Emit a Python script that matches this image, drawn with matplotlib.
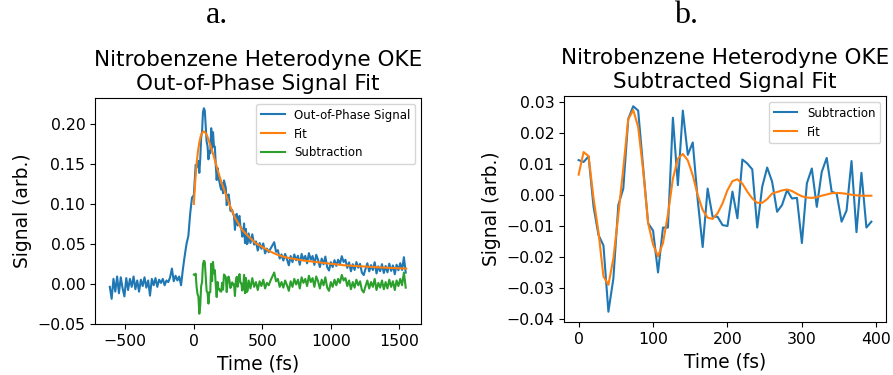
#!/usr/bin/env python
import matplotlib
matplotlib.use("Agg")
import matplotlib.pyplot as plt
from matplotlib.ticker import MultipleLocator
import numpy as np

# --- panel a: out-of-phase signal (blue), fit (orange), subtraction (green) ---
# blue before time zero, 40/3 fs steps from -613 fs
pre_signal = [-0.004, -0.019, 0.006, -0.010, 0.009, -0.012, 0.008, -0.006, -0.016, 0.007,
              -0.008, 0.006, -0.004, 0.009, -0.007, 0.004, -0.010, 0.005, -0.003, 0.008,
              -0.005, 0.004, -0.015, 0.006, -0.002, 0.007, -0.004, 0.005, 0.001, 0.006,
              -0.002, 0.004, 0.002, 0.008, 0.019, 0.003, 0.010, 0.004, 0.009, -0.002,
              0.018, 0.035, 0.050, 0.060, 0.088, 0.108]
# blue 0 - 393 fs, 20/3 fs steps
early_signal = [0.111, 0.130, 0.149, 0.146, 0.148, 0.154, 0.139, 0.156, 0.183, 0.191,
                0.215, 0.220, 0.217, 0.198, 0.178, 0.1725, 0.156, 0.1665, 0.1635, 0.195,
                0.170, 0.190, 0.172, 0.172, 0.149, 0.130, 0.145, 0.132, 0.128, 0.122,
                0.118, 0.126, 0.1135, 0.1295, 0.125, 0.120, 0.0985, 0.109, 0.112, 0.104,
                0.0916, 0.091, 0.0926, 0.0874, 0.085, 0.0675, 0.085, 0.0876, 0.073, 0.0825,
                0.085, 0.072, 0.0695, 0.059, 0.061, 0.0755, 0.051, 0.0687, 0.0495, 0.051]
# blue 400 - 1547 fs, 40/3 fs steps
tail_signal = [0.063, 0.051, 0.062, 0.049, 0.053, 0.0415, 0.051, 0.0437, 0.0505, 0.038,
               0.044, 0.0395, 0.044, 0.048, 0.052, 0.040, 0.042, 0.0315, 0.0367, 0.029,
               0.0373, 0.0307, 0.023, 0.0347, 0.027, 0.0367, 0.0293, 0.035, 0.0237, 0.0373,
               0.030, 0.0348, 0.0255, 0.0383, 0.030, 0.0347, 0.0235, 0.0362, 0.030, 0.0208,
               0.0315, 0.0243, 0.034, 0.0207, 0.0165, 0.027, 0.0208, 0.0295, 0.0223, 0.030,
               0.0247, 0.0345, 0.0272, 0.030, 0.0198, 0.0267, 0.0155, 0.0244, 0.0172, 0.0271,
               0.020, 0.0249, 0.0138, 0.0108, 0.0187, 0.0256, 0.0154, 0.0233, 0.0171, 0.0269,
               0.0128, 0.0217, 0.0156, 0.0245, 0.0134, 0.0222, 0.0142, 0.0251, 0.016, 0.0229,
               0.0118, 0.0238, 0.0168, 0.0257, 0.0172, 0.0332, 0.0139]

fit_time = [0, 10, 20, 30, 40, 50, 60, 70, 80, 90, 100, 120, 140, 160, 180, 200, 225,
            250, 275, 300, 350, 400, 450, 500, 550, 600, 650, 700, 800, 900, 1000, 1100,
            1200, 1300, 1400, 1550]
fit_signal = [0.100, 0.128, 0.150, 0.166, 0.177, 0.185, 0.189, 0.191, 0.190, 0.188, 0.184,
              0.174, 0.163, 0.151, 0.139, 0.128, 0.116, 0.104, 0.093, 0.083, 0.068, 0.059,
              0.051, 0.046, 0.041, 0.037, 0.034, 0.032, 0.029, 0.027, 0.025, 0.023, 0.022,
              0.021, 0.020, 0.019]

# green after 400 fs, 40/3 fs steps (first 400 fs is the subtraction below)
tail_sub = [0.004, -0.006, 0.007, -0.004, 0.002, -0.008, 0.003, -0.003, 0.005, -0.006,
            0.001, -0.002, 0.004, 0.009, 0.014, 0.003, 0.006, -0.004, 0.002, -0.005,
            0.004, -0.002, -0.009, 0.003, -0.004, 0.006, -0.001, 0.005, -0.006, 0.008,
            0.001, 0.006, -0.003, 0.010, 0.002, 0.007, -0.004, 0.009, 0.003, -0.006,
            0.005, -0.002, 0.008, -0.005, -0.009, 0.002, -0.004, 0.005, -0.002, 0.006,
            0.001, 0.011, 0.004, 0.007, -0.003, 0.004, -0.007, 0.002, -0.005, 0.005,
            -0.002, 0.003, -0.008, -0.011, -0.003, 0.004, -0.006, 0.002, -0.004, 0.006,
            -0.008, 0.001, -0.005, 0.004, -0.007, 0.002, -0.006, 0.005, -0.004, 0.003,
            -0.008, 0.004, -0.003, 0.006, -0.002, 0.014, -0.005]

# --- panel b: subtracted signal and its fit, 0 - 393 fs, 20/3 fs steps ---
subtraction = [0.0113, 0.0107, 0.0125, -0.0037, -0.0129, -0.0163, -0.0377, -0.0270, -0.0032, 0.0021,
               0.0246, 0.0287, 0.0273, 0.0090, -0.0091, -0.0115, -0.0250, -0.0105, -0.0105, 0.0250,
               0.0032, 0.0273, 0.0130, 0.0170, -0.0016, -0.0168, 0.0021, -0.0070, -0.0070, -0.0097,
               -0.0100, 0.0011, -0.0075, 0.0115, 0.0102, 0.0083, -0.0105, 0.0027, 0.0089, 0.0043,
               -0.0054, -0.0032, 0.0016, -0.0011, -0.0009, -0.0155, 0.0038, 0.0086, -0.0038, 0.0075,
               0.0120, 0.0011, 0.0005, -0.0086, -0.0050, 0.0110, -0.0120, 0.0072, -0.0105, -0.0086]
sub_fit = [0.0066, 0.0139, 0.0126, -0.0010, -0.0120, -0.0263, -0.0290, -0.0205, -0.0064, 0.0086,
           0.0245, 0.0275, 0.0220, 0.0080, -0.0090, -0.0160, -0.0198, -0.0155, -0.0063, 0.0053,
           0.0118, 0.0133, 0.0112, 0.0064, 0.0000, -0.0048, -0.0073, -0.0077, -0.0059, -0.0027,
           0.0016, 0.0045, 0.0051, 0.0037, 0.0011, -0.0011, -0.0025, -0.0025, -0.0013, 0.0005,
           0.0010, 0.0015, 0.0018, 0.0013, 0.0004, -0.0004, -0.0008, -0.0009, -0.0007, -0.0002,
           0.0002, 0.0006, 0.0007, 0.0006, 0.0004, 0.0001, -0.0001, -0.0002, -0.0002, -0.0002]

step = 20 / 3
t_pre = np.arange(-len(pre_signal), 0) * 2 * step
t_early = np.arange(len(early_signal)) * step
t_tail = 400 + np.arange(len(tail_signal)) * 2 * step
t_sub = np.arange(len(subtraction)) * step

signal_time = np.concatenate([t_pre, t_early, t_tail])
signal = np.concatenate([pre_signal, early_signal, tail_signal])
green_time = np.concatenate([t_sub, 400 + np.arange(len(tail_sub)) * 2 * step])
green = np.concatenate([subtraction, tail_sub])

tick_size = 11.3
label_size = 13.4
title_size = 15.5
legend_size = 8.5

fig = plt.figure(figsize=(8.93, 3.75), dpi=100)
ax1 = fig.add_axes([95 / 893, 1 - 324 / 375, 326 / 893, 226 / 375])
ax2 = fig.add_axes([564 / 893, 1 - 322 / 375, 322 / 893, 226 / 375])

ax1.plot(signal_time, signal, label='Out-of-Phase Signal')
ax1.plot(fit_time, fit_signal, label='Fit')
ax1.plot(green_time, green, label='Subtraction')
ax1.set_title('Nitrobenzene Heterodyne OKE\nOut-of-Phase Signal Fit', fontsize=title_size)
ax1.set_xlabel('Time (fs)', fontsize=label_size)
ax1.set_ylabel('Signal (arb.)', fontsize=label_size)
ax1.tick_params(labelsize=tick_size)
ax1.legend(loc='upper right', fontsize=legend_size)

ax2.plot(t_sub, subtraction, label='Subtraction')
ax2.plot(t_sub, sub_fit, label='Fit')
ax2.set_title('Nitrobenzene Heterodyne OKE\nSubtracted Signal Fit', fontsize=title_size)
ax2.set_xlabel('Time (fs)', fontsize=label_size)
ax2.set_ylabel('Signal (arb.)', fontsize=label_size)
ax2.yaxis.set_major_locator(MultipleLocator(0.01))
ax2.tick_params(labelsize=tick_size)
ax2.legend(loc='upper right', fontsize=legend_size)

fig.text(217 / 893, 1 - 23 / 375, 'a.', family='Liberation Serif', fontsize=23,
         ha='center', va='baseline')
fig.text(686 / 893, 1 - 23 / 375, 'b.', family='Liberation Serif', fontsize=23,
         ha='center', va='baseline')

plt.savefig('out.png')
